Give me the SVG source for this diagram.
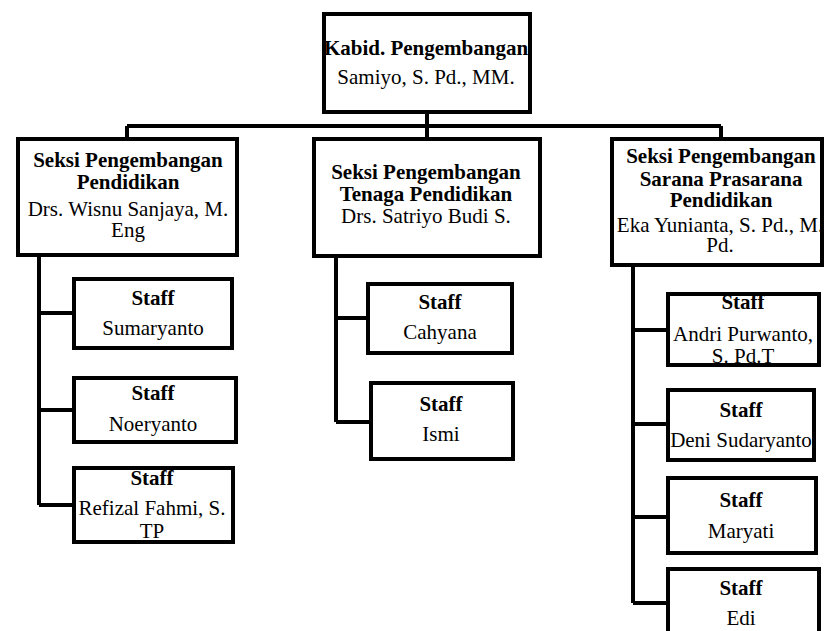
<svg xmlns="http://www.w3.org/2000/svg" width="825" height="631" viewBox="0 0 825 631">
<style>
rect{fill:#fff;stroke:#000;stroke-width:4}
.c{fill:none;stroke:#000;stroke-width:4}
text{font-family:"Liberation Serif","Times New Roman",serif;font-size:21px;fill:#000;text-anchor:middle}
.b{font-weight:bold}
</style>
<rect x="0" y="0" width="825" height="631" style="fill:#fff;stroke:none"/>
<g id="connectors">
<path class="c" d="M427 112V126M127 126H721M127 126V139M427 126V139M721 126V139"/>
<path class="c" d="M39 255V505M39 313H74M39 410H74M39 505H74"/>
<path class="c" d="M336 256V422M336 318H368M336 422H371"/>
<path class="c" d="M633 265V603M633 330H668M633 424H668M633 517H668M633 603H668"/>
</g>
<g id="kabid"><rect x="324" y="14" width="206" height="98"/>
<text x="426" y="55" class="b">Kabid. Pengembangan</text><text x="426" y="84">Samiyo, S. Pd., MM.</text></g>
<g id="seksi1"><rect x="18" y="139" width="219" height="116"/>
<text x="128" y="167" class="b">Seksi Pengembangan</text><text x="128" y="189" class="b">Pendidikan</text>
<text x="128" y="216">Drs. Wisnu Sanjaya, M.</text><text x="128" y="237">Eng</text></g>
<g id="seksi2"><rect x="314" y="139" width="226" height="117"/>
<text x="426" y="179" class="b">Seksi Pengembangan</text><text x="426" y="201" class="b">Tenaga Pendidikan</text>
<text x="426" y="223">Drs. Satriyo Budi S.</text></g>
<g id="seksi3"><rect x="612" y="139" width="210" height="126"/>
<text x="721" y="163" class="b">Seksi Pengembangan</text><text x="721" y="186" class="b">Sarana Prasarana</text>
<text x="721" y="207" class="b">Pendidikan</text><text x="720" y="232">Eka Yunianta, S. Pd., M.</text><text x="720" y="252">Pd.</text></g>
<g id="sumaryanto"><rect x="74" y="279" width="158" height="69"/>
<text x="153" y="305" class="b">Staff</text><text x="153" y="335">Sumaryanto</text></g>
<g id="noeryanto"><rect x="74" y="378" width="162" height="64"/>
<text x="153" y="400" class="b">Staff</text><text x="153" y="431">Noeryanto</text></g>
<g id="refizal"><rect x="74" y="468" width="159" height="74"/>
<text x="152" y="485" class="b">Staff</text><text x="152" y="515">Refizal Fahmi, S.</text><text x="152" y="538">TP</text></g>
<g id="cahyana"><rect x="368" y="284" width="144" height="69"/>
<text x="440" y="309" class="b">Staff</text><text x="440" y="339">Cahyana</text></g>
<g id="ismi"><rect x="371" y="383" width="142" height="76"/>
<text x="441" y="411" class="b">Staff</text><text x="441" y="441">Ismi</text></g>
<g id="andri"><rect x="668" y="294" width="151" height="71"/>
<text x="743" y="309" class="b">Staff</text><text x="743" y="341">Andri Purwanto,</text><text x="743" y="363">S. Pd.T</text></g>
<g id="deni"><rect x="668" y="390" width="146" height="70"/>
<text x="741" y="417" class="b">Staff</text><text x="741" y="447">Deni Sudaryanto</text></g>
<g id="maryati"><rect x="668" y="478" width="148" height="75"/>
<text x="741" y="507" class="b">Staff</text><text x="741" y="538">Maryati</text></g>
<g id="edi"><rect x="668" y="569" width="151" height="75"/>
<text x="741" y="595" class="b">Staff</text><text x="741" y="625">Edi</text></g>
</svg>
